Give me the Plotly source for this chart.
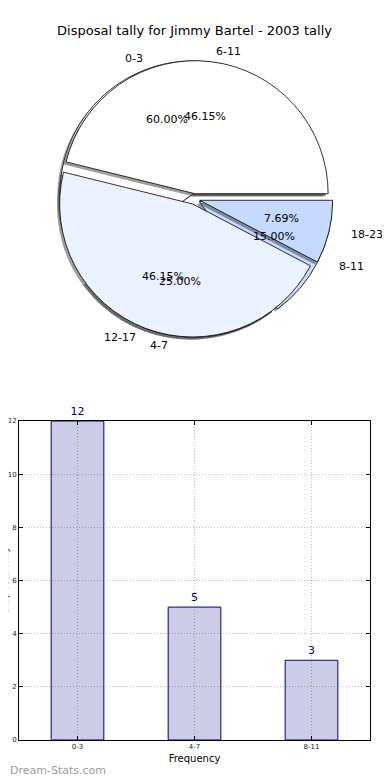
import math
import plotly.graph_objects as go

# ---------------- data ----------------
title_text = "Disposal tally for Jimmy Bartel - 2003 tally"
pie1_labels = ["0-3", "4-7", "8-11"]
pie1_values = [12, 5, 3]
pie2_labels = ["6-11", "12-17", "18-23"]
pie2_values = [6, 6, 1]
slice_colors = ["#ffffff", "#ebf1ff", "#c6d9ff"]
bar_labels = ["0-3", "4-7", "8-11"]
bar_values = [12, 5, 3]
y_ticks = [0, 2, 4, 6, 8, 10, 12]
x_title = "Frequency"
y_title = "Disposal tally"
watermark = "Dream-Stats.com"

# ---------------- layout geometry ----------------
# the page body has an 8px margin, so the figure is 8px smaller on each axis
W, H = 382, 772
ML, MR, MT, MB = 11, 20, 0, 40
PW = W - ML - MR
PH = H - MT - MB

PULL = 0.04
R = 133                 # pie radius (px)
TRX, TRY = 140, 130     # radii used to place the pie texts
CX, CY = 186.5, 191
S = 2 * R * (1 + PULL)
FONT = "DejaVu Sans"


def pie_domain(dx=0.0, dy=0.0):
    x0 = (CX + dx - S / 2 - ML) / PW
    x1 = (CX + dx + S / 2 - ML) / PW
    y0 = 1 - (CY + dy + S / 2 - MT) / PH
    y1 = 1 - (CY + dy - S / 2 - MT) / PH
    return dict(x=[x0, x1], y=[y0, y1])


def pie_trace(labels, values, colors, dom, line_w):
    # first slice starts at 3 o'clock and the slices run counterclockwise
    first_frac = float(values[0]) / sum(values)
    return go.Pie(
        labels=labels, values=values, sort=False,
        direction="counterclockwise", rotation=90 - 360 * first_frac,
        pull=[PULL] * len(values),
        marker=dict(colors=colors, line=dict(color="#000000", width=line_w)),
        textinfo="none", hoverinfo="skip", showlegend=False,
        domain=dom,
    )


def pie_texts(labels, values):
    total = float(sum(values))
    cum = 0.0
    anns = []
    for lab, v in zip(labels, values):
        theta = 2 * math.pi * (cum + v / 2.0) / total
        cum += v
        c, s = math.cos(theta), math.sin(theta)
        u = 1.1 + PULL
        x = CX + u * TRX * c
        y = CY - u * TRY * s
        anns.append(dict(text=lab, x=(x - ML) / PW, y=1 - (y - MT) / PH,
                         xref="paper", yref="paper",
                         xanchor="left" if c > 0 else "right", yanchor="middle",
                         showarrow=False, font=dict(family=FONT, size=11, color="#000")))
        u = 0.6 + PULL
        x = CX + u * TRX * c
        y = CY - u * TRY * s
        anns.append(dict(text="%.2f%%" % (100.0 * v / total), x=(x - ML) / PW, y=1 - (y - MT) / PH,
                         xref="paper", yref="paper",
                         xanchor="center", yanchor="middle",
                         showarrow=False, font=dict(family=FONT, size=11, color="#000")))
    return anns


fig = go.Figure()
shadow = ["rgba(60,60,60,0.5)"] * 3
fig.add_trace(pie_trace(pie1_labels, pie1_values, shadow, pie_domain(-2.5, 2.5), 0))
fig.add_trace(pie_trace(pie1_labels, pie1_values, slice_colors, pie_domain(), 0.8))
fig.add_trace(pie_trace(pie2_labels, pie2_values, shadow, pie_domain(-2.5, 2.5), 0))
fig.add_trace(pie_trace(pie2_labels, pie2_values, slice_colors, pie_domain(), 0.8))

fig.add_trace(go.Bar(
    x=bar_labels, y=bar_values, width=0.45,
    marker=dict(color="rgba(0,0,128,0.2)", line=dict(color="#000080", width=1)),
    text=[str(v) for v in bar_values], textposition="outside",
    textfont=dict(color="#000080", size=11, family=FONT),
    outsidetextfont=dict(color="#000080", size=11, family=FONT),
    cliponaxis=False, hoverinfo="skip", showlegend=False,
))

axis_common = dict(
    showline=True, linecolor="#000", linewidth=1, mirror="ticks",
    ticks="inside", ticklen=4, tickcolor="#000",
    showgrid=True, gridcolor="#bdbdbd", griddash="1px,2px", gridwidth=1,
    zeroline=False, tickfont=dict(family=FONT, size=7, color="#222"),
    automargin=False,
)

bar_dom_top = 319.0 / PH

annotations = pie_texts(pie1_labels, pie1_values) + pie_texts(pie2_labels, pie2_values)
annotations.append(dict(text=watermark, x=(0 - ML) / PW, y=-(762 - (H - MB)) / PH,
                        xref="paper", yref="paper", xanchor="left", yanchor="middle",
                        showarrow=False, font=dict(family=FONT, size=11, color="#9a9a9a")))
# y-axis title: sits at the very left edge, mostly cut off as in the original
annotations.append(dict(text=y_title, textangle=-90, x=(-4 - ML) / PW, y=bar_dom_top / 2,
                        xref="paper", yref="paper", xanchor="center", yanchor="middle",
                        showarrow=False, font=dict(family=FONT, size=10, color="#333")))

fig.update_layout(
    width=W, height=H,
    margin=dict(l=ML, r=MR, t=MT, b=MB, pad=0, autoexpand=False),
    paper_bgcolor="#fff", plot_bgcolor="#fff",
    font=dict(family=FONT, color="#000"),
    title=dict(text=title_text, x=0.5, xref="paper", xanchor="center",
               y=1 - 22.0 / H, yref="container", yanchor="middle",
               font=dict(family=FONT, size=13, color="#000")),
    xaxis=dict(domain=[0, 1], range=[-0.5, 2.5], type="category",
               title=dict(text=x_title, font=dict(family=FONT, size=10), standoff=4),
               **axis_common),
    yaxis=dict(domain=[0, bar_dom_top], range=[0, 12], tickvals=y_ticks,
               **axis_common),
    annotations=annotations,
    showlegend=False,
)

fig.write_html("out.html")
